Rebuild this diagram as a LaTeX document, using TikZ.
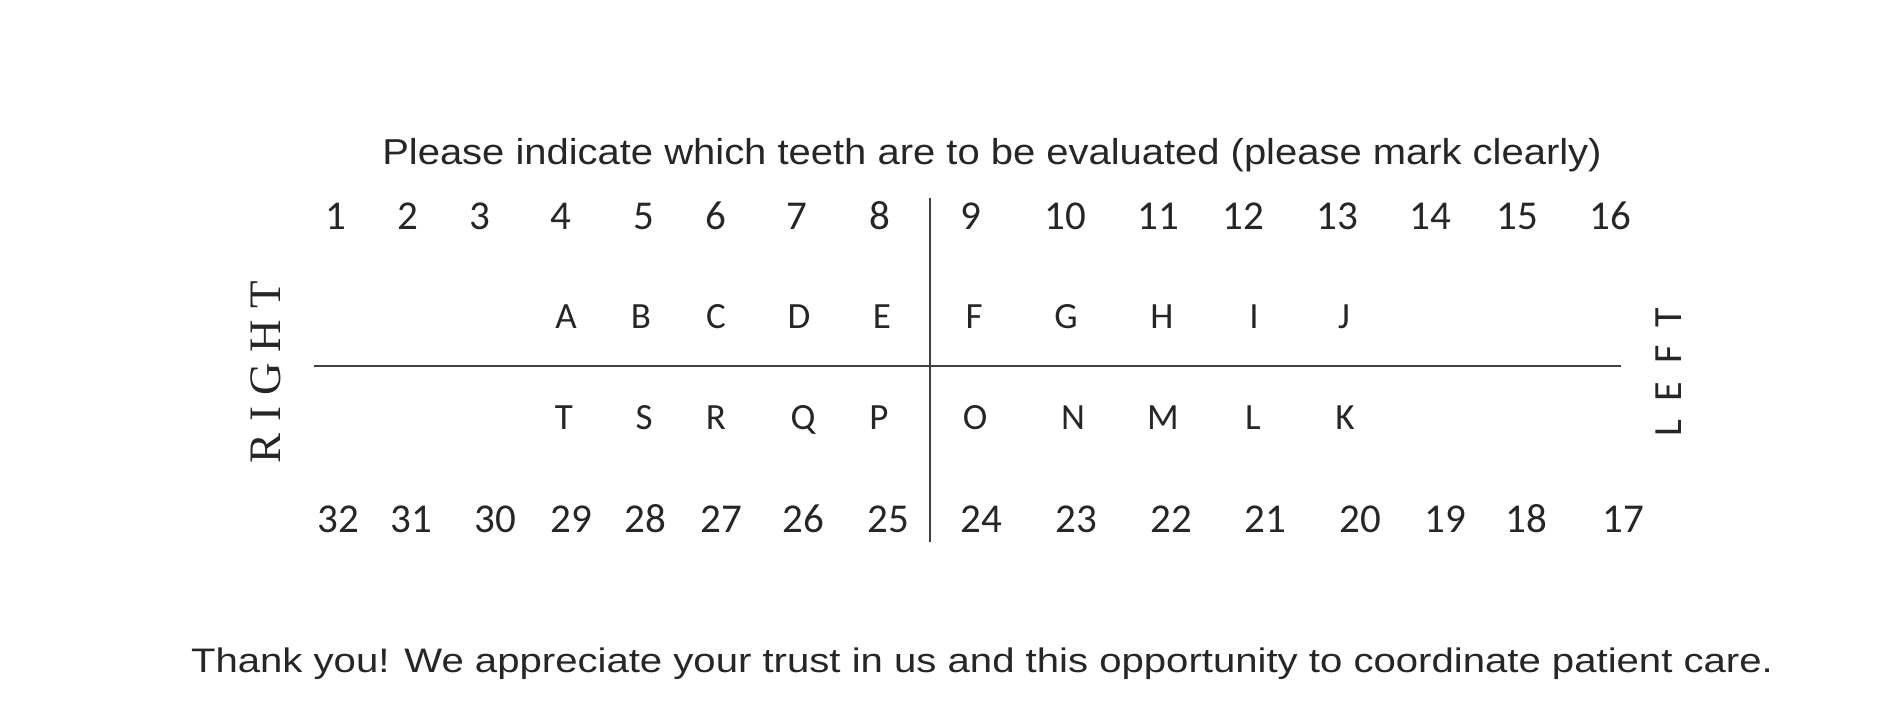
\documentclass[tikz,border=0pt]{standalone}
\usepackage{graphicx}
\usepackage{fontspec}
\setmainfont{Liberation Sans}
\newfontfamily\calib{Carlito}
\newfontfamily\serifr{Liberation Serif}
\begin{document}
\begin{tikzpicture}[x=1pt,y=-1pt,
  ink/.style={text=black!85, inner sep=0pt, anchor=base},
  num/.style={ink, font=\calib\fontsize{41}{41}\selectfont},
  let/.style={ink, font=\calib\fontsize{37}{37}\selectfont},
  rule/.style={draw=black!75, line width=2.6pt}]
\useasboundingbox (0,0) rectangle (1880,712);
\node[ink, font=\fontsize{36}{36}\selectfont] (title) at (992,164) {\scalebox{1.11}[1]{Please indicate which teeth are to be evaluated (please mark clearly)}};
\foreach \x [count=\i] in {336,408,480,561,644,716,797,880,971,1065,1158,1243,1337,1430,1517,1610}
  \node[num] (n\i) at (\x,229) {\i};
\foreach \x/\l in {566/A,641/B,716/C,799/D,882/E,974/F,1066/G,1162/H,1254/I,1344/J}
  \node[let] (l\l) at (\x,328) {\l};
\foreach \x/\l in {564/T,644/S,716/R,803/Q,879/P,975/O,1073/N,1163/M,1253/L,1345/K}
  \node[let] (l\l) at (\x,429) {\l};
\foreach \x/\n in {338/32,411/31,495/30,571/29,645/28,721/27,803/26,888/25,981/24,1076/23,1171/22,1265/21,1360/20,1445/19,1526/18,1623/17}
  \node[num] (n\n) at (\x,532) {\n};
\coordinate (hl) at (314,366);
\coordinate (hr) at (1621,366);
\coordinate (vt) at (930,198);
\coordinate (vb) at (930,542);
\draw[rule] (hl) -- (hr);
\draw[rule] (vt) -- (vb);
\node[text=black!85, inner sep=0pt, rotate=90, font=\serifr\fontsize{45}{45}\selectfont] (right) at (266,372) {R\hspace{0.25em}I\hspace{0.25em}G\hspace{0.25em}H\hspace{0.25em}T};
\node[text=black!85, inner sep=0pt, rotate=90, font=\calib\fontsize{40}{40}\selectfont] (left) at (1669,372) {L\hspace{0.45em}E\hspace{0.45em}F\hspace{0.45em}T};
\node[ink, font=\fontsize{34}{34}\selectfont] (footer) at (982,672) {\scalebox{1.18}[1]{Thank you! We appreciate your trust in us and this opportunity to coordinate patient care.}};
\end{tikzpicture}
\end{document}
